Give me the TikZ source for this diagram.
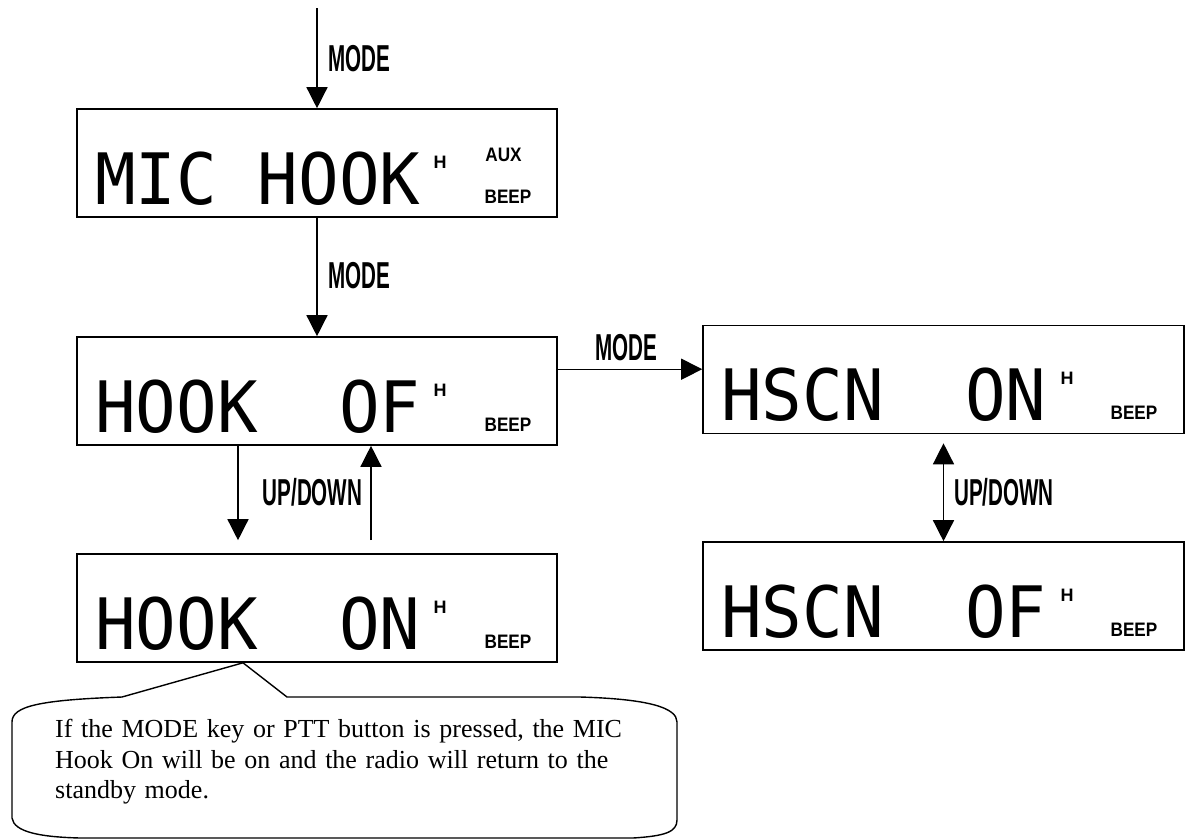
\documentclass[tikz,border=0pt]{standalone}
\usepackage{fontspec}
\setmainfont{Liberation Serif}
\newfontfamily\lcdfont{DejaVu Sans Mono}
\newfontfamily\labfont{Liberation Sans}
\usetikzlibrary{arrows.meta,calc}
\newcommand\squeeze[2]{\scalebox{#1}[1]{#2}}
\newcommand\lcdstretch[1]{\scalebox{1}[1.05]{#1}}
\tikzset{
  lcdbox/.style={draw, line width=1.6pt, minimum width=480pt, minimum height=108pt, inner sep=0pt},
  lcdtxt/.style={anchor=base west, inner sep=0pt, font=\lcdfont\fontsize{67.5}{70}\selectfont},
  smalllab/.style={inner sep=0pt, font=\labfont\bfseries\fontsize{19.5}{20}\selectfont},
  hlab/.style={inner sep=0pt, font=\labfont\bfseries\fontsize{18}{20}\selectfont},
  keylab/.style={inner sep=0pt, font=\labfont\bfseries\fontsize{37.5}{40}\selectfont},
  arr/.style={line width=1.4pt, -{Triangle[length=21pt,width=21pt]}},
  darr/.style={line width=1.4pt, {Triangle[length=21pt,width=21pt]}-{Triangle[length=21pt,width=21pt]}},
  notetxt/.style={anchor=north west, inner sep=0pt, text width=580pt, align=left,
    font=\fontsize{26}{30.5}\selectfont},
}
\begin{document}
\begin{tikzpicture}[x=1pt,y=-1pt]
\useasboundingbox (0,0) rectangle (1186,839);

% boxes
\node[lcdbox] (mic) at (317,163) {};
\node[lcdbox] (hof) at (317,391) {};
\node[lcdbox] (hon) at (317,608) {};
\node[lcdbox, minimum width=481pt] (son) at (943.5,379.5) {};
\node[lcdbox, minimum width=481pt] (sof) at (943.5,596) {};

% LCD texts
\node[lcdtxt] (micT) at (95,204) {\lcdstretch{MIC HOOK}};
\node[hlab] (micH) at (440,162) {H};
\node[smalllab] (micA) at (503.5,155) {\squeeze{0.88}{AUX}};
\node[smalllab] (micB) at (508,196.5) {\squeeze{0.88}{BEEP}};

\node[lcdtxt] (hofT) at (95,432) {\lcdstretch{HOOK\ \ OF}};
\node[hlab] (hofH) at (440,390) {H};
\node[smalllab] (hofB) at (508,424.5) {\squeeze{0.88}{BEEP}};

\node[lcdtxt] (honT) at (95,649) {\lcdstretch{HOOK\ \ ON}};
\node[hlab] (honH) at (440,607) {H};
\node[smalllab] (honB) at (508,641.5) {\squeeze{0.88}{BEEP}};

\node[lcdtxt] (sonT) at (721,420) {\lcdstretch{HSCN\ \ ON}};
\node[hlab] (sonH) at (1067,378) {H};
\node[smalllab] (sonB) at (1134,412.5) {\squeeze{0.88}{BEEP}};

\node[lcdtxt] (sofT) at (721,637) {\lcdstretch{HSCN\ \ OF}};
\node[hlab] (sofH) at (1067,595) {H};
\node[smalllab] (sofB) at (1134,629.5) {\squeeze{0.88}{BEEP}};

% connectors
\coordinate (start) at (317,8);
\draw[arr] (start) -- (mic.north);
\node[keylab] (m1) at (359.5,58.5) {\squeeze{0.55}{MODE}};

\draw[arr] (mic.south) -- (hof.north);
\node[keylab] (m2) at (359.5,275.5) {\squeeze{0.55}{MODE}};

\draw[arr] ([yshift=-33pt]hof.north east) -- ([yshift=-33pt]hof.north east -| son.west);
\node[keylab] (m3) at (626.5,347.5) {\squeeze{0.55}{MODE}};

\draw[arr, shorten >=13pt] ([xshift=-79pt]hof.south) -- ([xshift=-79pt]hon.north);
\draw[arr, shorten <=13pt] ([xshift=54pt]hon.north) -- ([xshift=54pt]hof.south);
\node[keylab] (ud1) at (312.5,492.5) {\squeeze{0.55}{UP/DOWN}};

\draw[darr, shorten <=9pt] (son.south) -- (sof.north);
\node[keylab] (ud2) at (1004,492.5) {\squeeze{0.55}{UP/DOWN}};

% callout
\coordinate (tip) at ([xshift=-74pt]hon.south);
\draw[line width=1.4pt, line join=round]
  (tip) -- (122,697)
  .. controls (40,700) and (12,706) .. (12,722)
  -- (12,818)
  .. controls (14,832) and (40,837) .. (80,838)
  -- (633,838)
  .. controls (665,836) and (677,832) .. (677,820)
  -- (677,722)
  .. controls (677,708) and (650,699) .. (580,697)
  -- (287,697) -- cycle;
\node[notetxt] (note) at (55,719) {\makebox[579pt][s]{If the MODE key or PTT button is pressed, the MIC}\\
\makebox[579pt][s]{Hook On will be on and the radio will return to the}\\
standby mode.};
\end{tikzpicture}
\end{document}
